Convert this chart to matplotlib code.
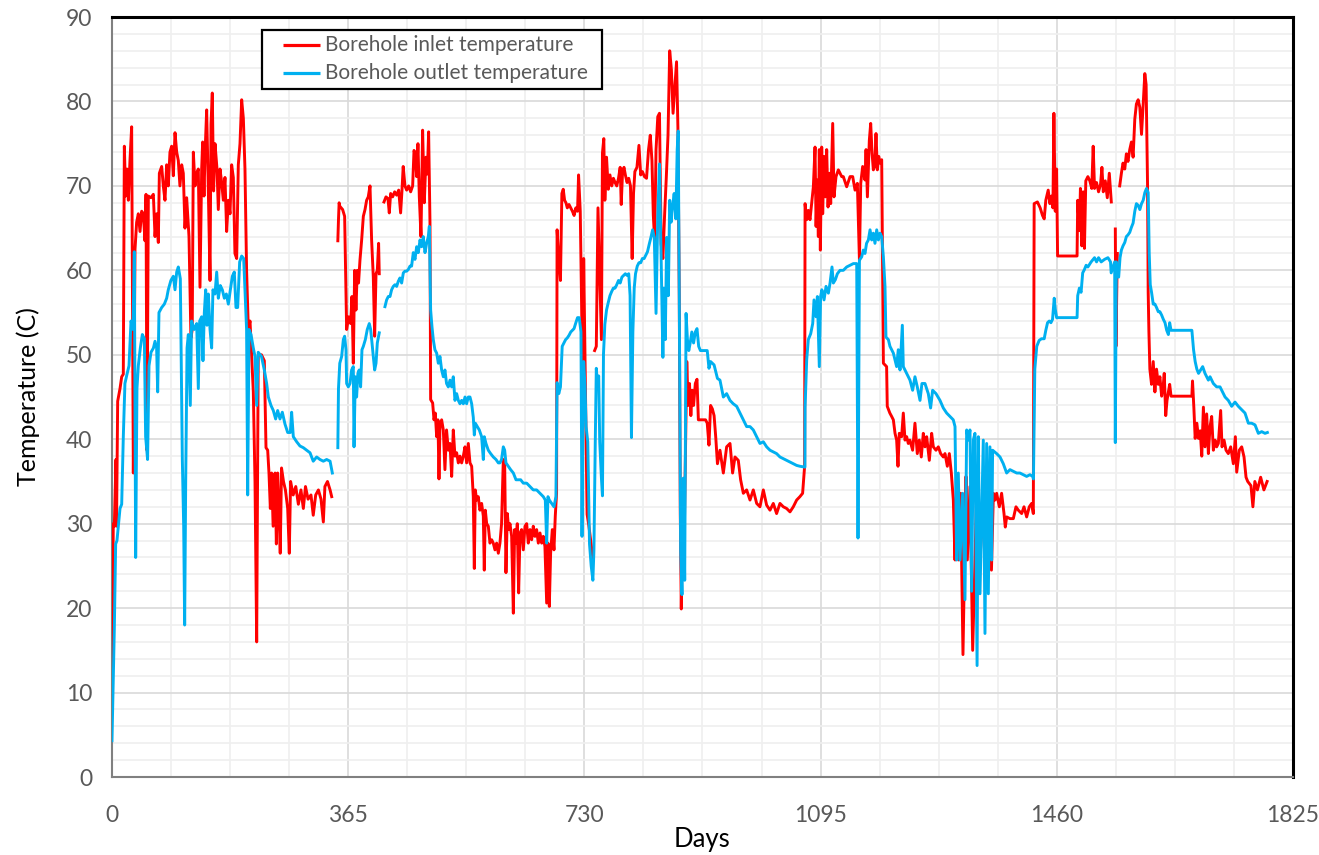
import numpy as np
import matplotlib
matplotlib.use("Agg")
import matplotlib.pyplot as plt
from matplotlib.ticker import MultipleLocator
from matplotlib.patches import Rectangle

plt.rcParams["font.family"] = ["Lato", "DejaVu Sans"]

# (day, temperature) pairs, one list per unbroken run
inlet_seg1 = [
    (0, 10), (2, 30), (3.6, 29.7), (6.2, 37.6), (7, 29.7), (8.8, 44.5), (12.4, 46), (15, 47.4),
    (17.5, 47.7), (19.1, 74.7), (21.1, 68.8), (23.2, 72), (25.3, 68.3), (27.8, 73), (30.4, 77),
    (33, 36), (35.6, 62.5), (38.1, 65.7), (40.7, 66.7), (43.3, 64.6), (45.9, 67), (48.4, 66.7),
    (51, 63.5), (52.6, 69), (54.1, 38.7), (56.2, 68.8), (60.3, 68.6), (63.9, 69), (66.5, 64),
    (69, 66.7), (71.6, 63.3), (73.2, 71.5), (76.8, 72.3), (79.3, 70), (81.9, 68.3), (84.5, 72.5),
    (87, 70), (89.6, 74), (92.2, 74.7), (94.8, 71.2), (97.4, 76.3), (100, 74), (102.5, 73),
    (105, 70), (107.7, 72.5), (110.2, 71.5), (112.8, 65), (115.4, 68.6), (119, 64), (122, 52),
    (124, 53), (125.7, 74), (128.3, 70), (130.9, 71.5), (133.4, 72), (136, 58), (138.6, 72),
    (140.1, 75.2), (142.2, 68.8), (143.7, 73.6), (146.3, 79), (148.9, 69.4), (151.5, 58.8),
    (153, 77.3), (155, 81), (157, 69.4), (159.2, 75), (162.3, 72), (164.3, 67.2), (166.9, 72),
    (169.5, 70.4), (172, 68.3), (174.6, 71), (177.2, 64.6), (179.8, 68.3), (182.4, 66.7),
    (184.9, 72.5), (187.5, 71), (190, 62), (192.7, 61.4), (195.2, 72.5), (197.8, 75), (200.4, 80.2),
    (203, 78), (205.5, 72), (208, 60), (210.7, 53), (213.3, 54), (215.8, 50), (218.4, 45.6),
    (221, 35), (223.6, 16), (226, 50), (231, 50), (235.4, 49.3), (238, 39), (240.6, 38.7),
    (242.6, 36), (244.7, 31.8), (246.7, 36), (249, 29.7), (252, 36), (254, 27.6), (256, 36),
    (258, 31.8), (260, 26.5), (262, 36.6), (265, 35), (268, 34), (271.5, 31.8), (274, 26.5),
    (276, 35), (280, 33.4), (284, 34.4), (288, 32.3), (292, 34), (295.7, 31.8), (299, 34.4),
    (303, 32.9), (307.5, 33.4), (311, 31), (314.8, 33.4), (319, 34), (323, 32.9), (326.6, 30.2),
    (329, 34.4), (333, 35), (337, 34), (339.5, 33.2),
]
inlet_seg2 = [
    (349, 63.5), (350, 66), (351, 68), (352, 67.6), (356.4, 67.2), (359.5, 66.4), (362.6, 53),
    (365.7, 54.5), (368.8, 53.7), (370.8, 56.9), (372.9, 49), (375, 60), (377, 55.3), (379, 60),
    (381, 58.5), (383.2, 61.2), (385.8, 63.6), (388.4, 66.4), (391, 67.2), (393.5, 68.3),
    (396, 68.7), (398.7, 70), (401.2, 63.6), (403.8, 59.2), (405.9, 52.2), (408, 59.6), (410, 60),
    (412, 63.2), (413, 59.6),
]
inlet_seg3 = [
    (420.3, 68.1), (423.4, 68.7), (426.5, 68.5), (428.5, 66.8), (430.6, 69.1), (433.7, 68.7),
    (436.8, 69.3), (439.9, 68.9), (443, 69.5), (446, 66.8), (448, 69.3), (450, 72.3), (452.7, 70),
    (455.3, 69.5), (458.4, 70), (461.5, 69.3), (464.6, 70), (466.7, 74.2), (468.7, 73.8),
    (470.8, 71.1), (472.8, 75), (474.9, 68.7), (477.5, 64), (480, 76.6), (482.6, 68), (485.2, 73.4),
    (487.3, 71.4), (489.3, 76.4), (491.4, 65.6), (492.4, 44.7), (495.5, 44.3), (497.6, 42.3),
    (499.6, 43.1), (501.7, 40.3), (503.7, 42.3), (505.3, 35.3), (506.8, 41.5), (509.4, 42.3),
    (512, 41.1), (514.5, 36.4), (517, 41.1), (519.7, 38.7), (522.3, 39.5), (524.9, 35.6),
    (527.4, 41.1), (530, 38), (532.6, 38.4), (535.2, 37.2), (537.7, 38), (540.3, 37.2), (542.9, 38),
    (545.5, 39.1), (548, 37.2), (550.6, 39.5), (553.2, 37.2), (555.8, 36.8), (558.3, 33.2),
    (559.9, 24.7), (561.4, 34), (563.5, 32.8), (566, 33.2), (568.6, 31.6), (571.2, 32.4),
    (573.8, 30.9), (575.3, 24.5), (576.9, 31.6), (579, 30), (581.5, 29.7), (584.1, 27.7),
    (586.7, 28.1), (589.2, 27.7), (591.8, 26.9), (594.4, 27.7), (597, 26.5), (599.5, 27.7),
    (602, 30), (604.7, 37.6), (606.8, 37.2), (608.8, 24.2), (610.9, 31.2), (613, 29.3), (615, 30),
    (617.6, 28.5), (620.2, 19.4), (622.2, 29.3), (624.3, 27.7), (626.3, 30), (628.4, 21.8),
    (630.5, 28.9), (633, 29.3), (635.6, 26.9), (638.2, 29.7), (640.8, 30), (643.3, 27.7),
    (646, 29.3), (648.5, 28.1), (651, 29.7), (653.6, 28.5), (656.2, 29.3), (658.8, 27.7),
    (661.4, 28.9), (664, 27.7), (666.5, 28.5), (669, 27.3), (671.7, 20.6), (673.7, 27.7),
    (675.8, 20.2), (677.8, 26.5), (680.4, 29.3), (683, 26.9), (685, 30.9), (687, 33.6),
    (687.8, 64.8), (690.4, 61.4), (693, 58.8), (695.2, 69.1), (697.3, 69.6), (699.4, 68.3),
    (701.5, 68), (703.6, 67.4), (706.2, 67.8), (708.9, 67.4), (711.5, 67), (714.1, 66.5),
    (716.8, 67.4), (719.4, 67), (721, 71.3), (723.6, 67), (725.8, 54.9), (727.9, 44), (728.9, 61.4),
    (731, 49.2), (732.6, 39.7), (734.2, 31.1), (736.8, 29.8), (743, 26),
]
inlet_seg4 = [
    (745.8, 50.5), (748.4, 51), (751, 67.4), (753.7, 59.2), (756.3, 51.8), (757.9, 73.9),
    (760, 75.6), (761.6, 68.3), (764.2, 73.4), (766.9, 69.6), (769.5, 71.3), (772.2, 70),
    (774.8, 70.9), (777.4, 70.4), (780, 70), (782.7, 70.9), (785.3, 72.2), (786.9, 67.8),
    (789, 71.7), (791.2, 72.2), (793.3, 71.3), (795.9, 70.4), (798.5, 70.9), (801.2, 70),
    (803.8, 61.4), (805.9, 69.1), (808, 71.7), (811.2, 72.2), (814.3, 74.8), (817, 71.3),
    (819.6, 71.7), (822.8, 71.1), (826, 70.9), (829.1, 74.3), (831.8, 76), (834.4, 73),
    (836.5, 66.5), (838.6, 63.5), (840.7, 74.3), (843.4, 78.2), (846, 78.6), (848.6, 63.1),
    (851.3, 61.4), (853.9, 66.5), (856.5, 70.9), (859.2, 76), (861.8, 86), (864.4, 83.8),
    (867, 78.6), (869.7, 81.7), (872.4, 84.7), (874.5, 76.9), (876.6, 57), (878.2, 31.1),
    (879.7, 19.9), (881.8, 31.1), (884, 26.8), (886, 37.6), (888.2, 49.2), (890.3, 44),
    (892.4, 46.6), (894.5, 42.8), (896.6, 45.8), (898.7, 44), (901.4, 46.6), (904, 47.1),
    (906.1, 42.3), (909.3, 42.3), (913.5, 42.3), (917.2, 42.3), (919.8, 41.9), (922.5, 39.3),
    (925, 44), (927.7, 43.6), (930.4, 42.8), (933, 40.2), (935.6, 37.1), (939.5, 38.7),
    (944.7, 36), (949.8, 39.1), (955, 39.5), (959, 36), (962.7, 37.9), (967.8, 37.5), (971.4, 35.2),
    (975.6, 33.6), (980.7, 34), (985.9, 32.8), (991, 34), (996.2, 32.4), (1001.3, 32),
    (1006.5, 34), (1011.6, 32.2), (1016.8, 31.6), (1021.9, 32.4), (1027, 31.2), (1032.2, 32.4),
    (1037.4, 32), (1042.5, 31.8), (1047.7, 31.4), (1052.8, 32), (1058, 32.8), (1063, 33.2),
    (1067.2, 33.6), (1070.3, 36.8), (1071, 67.9), (1073.5, 66), (1076, 67.1), (1078.6, 66),
    (1081.2, 67.9), (1083.8, 69.9), (1086.4, 74.6), (1088, 65.2), (1090, 70.7), (1091.5, 64),
    (1093, 74.3), (1094.6, 62.4), (1096.7, 74.6), (1098.2, 66.7), (1100.3, 73.5), (1102.4, 68.7),
    (1104.4, 74.3), (1106.5, 67.5), (1108.5, 71.5), (1110.6, 67.9), (1113.7, 77.4), (1115.7, 68.7),
    (1118.8, 71.1), (1122.4, 71.9), (1125, 71.5), (1127.6, 71.1), (1130.1, 71.1), (1135.3, 69.9),
    (1140.5, 71.1), (1144.6, 71.1), (1148.2, 69.5), (1151.8, 70.3), (1155, 61.2), (1157, 70.3),
    (1160, 72.3), (1163.6, 70.7), (1165.2, 74.3), (1167.3, 68.7), (1170.3, 75.4), (1172.4, 77.4),
    (1174.5, 73.9), (1176.5, 71.9), (1178.6, 72.3), (1180.6, 76.2), (1182.7, 71.9), (1184.8, 73.5),
    (1186.8, 72.7), (1189.4, 73.1), (1192, 49), (1197, 48.6), (1198, 43.9), (1202, 43.1),
    (1204.8, 42.7), (1207.4, 42.3), (1210, 40.7), (1212.5, 39.9), (1214.6, 36.8), (1216.6, 40.7),
    (1220.2, 40.3), (1222.8, 43.1), (1225.4, 39.9), (1228, 40.3), (1230.5, 39.5), (1233, 39.9),
    (1237.2, 38.7), (1240.8, 41.9), (1244.4, 38.3), (1247.5, 39.9), (1250.6, 37.9), (1253.7, 40.7),
    (1256.3, 39.1), (1258.9, 40.3), (1263, 37.5), (1266.6, 40.7), (1269.2, 39.1), (1273.3, 38.7),
    (1276.9, 39.1), (1280.5, 38.3), (1284.6, 37.9), (1287.2, 38.3), (1290.8, 36.8), (1293.9, 38.3),
    (1297, 36), (1300.1, 32.8), (1302.7, 25.7), (1305.2, 35.6), (1308.3, 25.7), (1311.4, 33.6),
    (1315, 14.5), (1319.7, 35.6), (1321.7, 25.7), (1325.8, 34.4), (1330, 15), (1336.1, 33.6),
    (1341.3, 25.7), (1346.4, 32.8), (1351.6, 26.5), (1354.2, 33.6), (1359, 24.5), (1362, 33.6),
    (1364.5, 32.8), (1367, 33.6), (1371.2, 32), (1374.7, 33.6), (1378.4, 31.2), (1380.4, 29.6),
    (1382.5, 30.8), (1387.6, 30.6), (1392.8, 30.6), (1396.9, 32), (1400.5, 31.6), (1405.7, 31.2),
    (1409.3, 32), (1413.4, 30.8), (1417.5, 32), (1421.1, 32.4), (1423.7, 31.2), (1425, 67.9),
    (1430, 68.1), (1434.3, 67.4), (1437.9, 66.5), (1440.5, 66.1), (1443, 68.3), (1446.7, 69.5),
    (1449.3, 67.9), (1451.9, 68.8), (1454, 67.4), (1455.5, 78.6), (1457.6, 67), (1459.7, 72),
    (1461.2, 61.7), (1471.6, 61.7), (1482, 61.7), (1491.3, 61.7), (1492.3, 68.3), (1494.9, 64.7),
    (1496.5, 69.7), (1498.6, 62.9), (1500.7, 69.3), (1502.7, 62.6), (1504.8, 70.6), (1508, 71.1),
    (1511, 70.6), (1514, 69.7), (1516.2, 74.7), (1518.3, 69.7), (1521.4, 70.4), (1524.5, 69.3),
    (1527.6, 70.2), (1529.7, 72.2), (1531.8, 69.3), (1534.9, 70.6), (1538, 68.6), (1541.1, 71.5),
    (1544.2, 68.1),
]
inlet_seg5 = [(1550.4, 64.9), (1551.4, 51), (1553.5, 62)]
inlet_seg6 = [
    (1557.2, 70), (1559.8, 71.5), (1562.3, 72.7), (1565, 72), (1567.5, 73.8), (1570, 72.9),
    (1572.7, 74.3), (1575.3, 75.2), (1577.9, 73.4), (1580.5, 77.9), (1583, 79.7), (1585.7, 80.2),
    (1588.3, 79.3), (1590.9, 76.1), (1593.5, 79.7), (1596, 83.3), (1598, 82), (1600.2, 70.2),
    (1601.2, 57.4), (1602.3, 52.8), (1603.8, 48.3), (1606.4, 46.5), (1609, 49.2), (1611.6, 45.6),
    (1614.1, 48.3), (1616.8, 46.5), (1619.3, 47.4), (1622, 45.1), (1624.6, 46.5), (1626, 47.8),
    (1628.3, 42.8), (1630.3, 44.6), (1632.4, 45.6), (1634.4, 46.5), (1636.5, 45.1), (1642.7, 45.1),
    (1653, 45.1), (1663.5, 45.1), (1668.7, 45.1), (1669.7, 46.9), (1671.8, 43.7), (1673.8, 40.1),
    (1676.4, 41.9), (1679, 40.1), (1681.6, 41), (1684, 38), (1686.5, 43.8), (1689, 39.1),
    (1691.6, 43), (1694.2, 38.3), (1696.8, 41.5), (1699.3, 42.7), (1701.9, 38.7), (1704.5, 39.9),
    (1707, 39.1), (1709.6, 39.5), (1713.2, 43.4), (1715.3, 39.1), (1718.4, 39.9), (1721.5, 38.7),
    (1725, 38.3), (1728.7, 39.1), (1732.8, 37.1), (1735.9, 40.3), (1738, 36.1), (1742, 38.7),
    (1745.7, 39.1), (1749.3, 37.9), (1752.4, 35.5), (1755, 35), (1760, 34.5), (1763, 32),
    (1766, 35), (1770, 34), (1775, 35.5), (1780, 34), (1785, 35),
]

outlet_seg1 = [
    (0, 4.3), (3.6, 17.5), (5.7, 27.6), (7.7, 28), (9.8, 29.7), (12.4, 31.8), (15, 32.3),
    (17.5, 40.3), (20, 46.6), (23.2, 47.7), (26.3, 48.7), (29.4, 54), (32.5, 53), (34.5, 62.2),
    (36.6, 26), (38.6, 46), (40.7, 48.7), (43.8, 50.8), (46.9, 52.4), (50, 51.9), (52, 40.3),
    (55, 37.6), (57.2, 48.7), (60.3, 50.3), (64, 50.8), (66.5, 51.6), (69, 50.8), (70.6, 45.6),
    (72.6, 55), (76.8, 55.6), (80.9, 56), (84.5, 56.7), (87, 57.7), (91, 58.8), (94.8, 59.3),
    (97.4, 57.7), (100, 59.8), (102.5, 60.4), (105.6, 59), (108.7, 37.6), (110.8, 29.7),
    (112.3, 18), (113.9, 35), (116, 50.8), (118, 52.4), (121, 44), (123, 54), (127, 53),
    (130.9, 53.7), (133.4, 46), (135.5, 54), (138.6, 54.5), (140.6, 49.3), (142.7, 55),
    (144.8, 57.7), (146.8, 53.5), (148.9, 57.2), (151.5, 53), (154, 50.8), (156, 57.7),
    (159.2, 57.2), (161.8, 59.8), (164.3, 56.7), (167.4, 58.2), (170.5, 57.7), (173.6, 56.7),
    (176.7, 57.2), (179.8, 56), (182.9, 57.7), (186, 59.3), (189, 59.8), (191.6, 55.6),
    (194.2, 55.6), (197.3, 61), (200.4, 61.7), (203.5, 61.4), (205.5, 57.7), (208, 53),
    (209.7, 33.4), (211.7, 53), (214.8, 52.4), (218.4, 50.8), (221, 49.8), (223.6, 44),
    (226, 50.3), (231, 49.8), (235.4, 48.2), (239, 46.6), (241.6, 45), (245.7, 44), (249.3, 43.4),
    (252.9, 42.4), (256, 43.4), (259.6, 42.4), (263.2, 43.2), (267.3, 41.8), (271.5, 40.8),
    (275.6, 40.8), (277.6, 43.2), (280.2, 40.3), (285.4, 39.7), (290.5, 39.2), (295.7, 39),
    (300.8, 38.7), (306, 38.4), (311, 37.4), (316.3, 37.9), (321.4, 37.6), (326.6, 37.4),
    (331.7, 37.6), (337, 37.4), (340.5, 36),
]
outlet_seg2 = [
    (349, 39), (350, 46), (352, 49), (354.9, 49.8), (357.5, 51.8), (359.5, 52.2), (361.6, 50.6),
    (362.6, 46.6), (365.2, 46.2), (367.8, 46.6), (370.3, 48.2), (372.9, 48.6), (374, 39.1),
    (376, 47.4), (378, 45), (380, 47.8), (382, 48.2), (384.2, 46.2), (386.3, 50.6), (388.4, 51),
    (391.5, 51.8), (394.5, 53), (397.6, 53.7), (399.7, 53), (401.8, 51.4), (403.8, 49.8),
    (405.9, 48.2), (408, 49), (410, 51.4), (413, 52.6),
]
outlet_seg3 = [
    (421.8, 55.7), (424.4, 56.5), (427, 56.9), (429.6, 56.9), (432.1, 57.7), (434.7, 58.1),
    (437.3, 58.3), (439.9, 58.1), (442.4, 58.7), (445, 59.1), (447.6, 58.5), (450.2, 59.7),
    (452.7, 59.9), (455.3, 59.9), (457.9, 60.1), (460.5, 60.5), (463, 60.5), (465.6, 62.1),
    (468.2, 61.3), (470.8, 62.8), (473.3, 62.1), (476, 63.6), (478.5, 62.8), (481, 64),
    (483.7, 62.1), (486.2, 63.2), (488.8, 64), (490.4, 65.2), (492.4, 55.3), (494.5, 53.3),
    (496.5, 51.8), (499, 50.6), (501.7, 50.2), (504.3, 49), (506.8, 49.8), (509.4, 48.2),
    (512, 47.4), (514.5, 48.2), (517, 46.6), (519.7, 46.2), (522.3, 47), (524.9, 46.2),
    (527.4, 47.4), (530, 44.6), (532.6, 45.4), (535.2, 44.6), (537.7, 44.2), (540.3, 44.6),
    (542.9, 44.2), (545.5, 45), (548, 44.2), (550.6, 45), (553.2, 45), (555.8, 44.2),
    (558.3, 42.6), (559.9, 40.5), (561.4, 41.9), (564.5, 41.5), (567.6, 41.1), (571.2, 40.3),
    (573.8, 37.6), (575.3, 40.3), (577.9, 39.5), (581.5, 38.7), (585.1, 38.3), (589.2, 37.9),
    (593.4, 37.6), (597, 37.2), (599.5, 37.2), (602, 37.6), (604.7, 39.1), (606.8, 38.7),
    (608.8, 37.2), (612.4, 36.8), (616, 36.4), (620.2, 36), (624.3, 35.2), (627.9, 35.2),
    (631.5, 35.2), (635.6, 34.8), (640.8, 34.8), (646, 34.4), (651, 34), (656.2, 34),
    (661.4, 33.6), (666.5, 33.2), (669.6, 32.8), (671.7, 27.7), (673.7, 33.2), (675.8, 32.8),
    (679.4, 32.4), (683, 32), (686, 33.2), (687.8, 46.7), (690.4, 45.4), (693, 46.2),
    (695.7, 51), (698.3, 51.4), (701, 51.8), (703.6, 52), (706.2, 52.3), (708.9, 52.7),
    (711.5, 52.9), (714, 53.1), (716.8, 53.8), (719.4, 54.4), (722, 54.4), (724.7, 52.7),
    (726.3, 28.5), (727.9, 44), (728.9, 49.2), (731, 46.2), (732.6, 41.5), (735.2, 39.7),
    (737.9, 27.6), (740.5, 25), (743.1, 23.3), (744.7, 26.8), (746.8, 39.7), (748.4, 48.4),
    (750, 46.7), (752.1, 47.5), (753.7, 39.7), (756.3, 35.4), (757.9, 33.3), (759.5, 50.1),
    (761.6, 53.6), (764.2, 55.3), (766.9, 56.2), (769.5, 57), (772.2, 57.5), (774.8, 57.9),
    (777.4, 57.9), (780, 58.3), (782.7, 58.8), (785.3, 58.5), (788, 59.2), (790.6, 59.4),
    (793.3, 59.6), (795.9, 59.4), (798.5, 59.6), (800.6, 57), (802.7, 40.2), (804.9, 52.7),
    (807, 57.9), (809, 59.6), (811.7, 60.5), (814.3, 60.9), (817, 60.9), (819.6, 61.4),
    (822.3, 61.4), (824.9, 61.8), (827.5, 62.2), (830.2, 63.1), (832.8, 63.9), (835.4, 64.8),
    (838, 63.9), (840.7, 54.9), (843.4, 66.5), (846, 72.6), (848.6, 61.4), (851.3, 49.7),
    (852.8, 57.9), (855, 51.8), (857.1, 63.9), (859.7, 57), (861.8, 68.3), (864, 65.7),
    (866, 67.4), (868.7, 69.1), (871.3, 66.1), (873.4, 74.3), (875, 76.5), (876.6, 57),
    (878.7, 26.8), (880.8, 21.6), (882.9, 35.4), (885, 23.3), (887.1, 54.9), (889.2, 51.8),
    (891.3, 50.5), (893.5, 51.4), (896, 52.7), (898.7, 51.4), (901.4, 52.7), (904, 53.1),
    (906.6, 51), (909.3, 50.5), (914.5, 50.5), (919.8, 50.5), (922.5, 48.4), (925, 49.2),
    (930.4, 48.8), (935.6, 47.2), (939.5, 47.0), (944.7, 45), (949.8, 45.4), (955, 44.6),
    (960, 44.2), (965.3, 43.9), (970.4, 43.1), (975.6, 42.3), (980.7, 41.5), (985.9, 41.5),
    (991, 41.1), (996.2, 40.3), (1001.3, 39.5), (1006.5, 39.7), (1011.6, 39.1), (1016.8, 38.7),
    (1021.9, 38.5), (1027, 38.3), (1032.2, 37.9), (1037.4, 37.7), (1042.5, 37.5), (1047.7, 37.3),
    (1052.8, 37.1), (1058, 36.9), (1063.1, 36.8), (1070.8, 36.7), (1071, 43.8), (1073.5, 49.4),
    (1076, 51.8), (1079.7, 52.5), (1082.8, 53.7), (1084.8, 56.5), (1088, 54.5), (1090, 56.9),
    (1093, 48.6), (1095, 56.9), (1097, 57.7), (1100.3, 56.5), (1103.4, 58.1), (1107, 57.3),
    (1109.6, 58.5), (1112.6, 60.4), (1114.7, 58.5), (1117.8, 58.9), (1120.9, 59.6), (1125, 60),
    (1130.1, 60), (1135.3, 60.4), (1140.5, 60.6), (1145.6, 60.8), (1150.8, 60.8), (1152.8, 28.3),
    (1155, 61.2), (1158.5, 61.6), (1161, 62.4), (1163.6, 62), (1166, 63.2), (1168.8, 63.6),
    (1171.4, 64.8), (1174, 63.6), (1176.5, 64.4), (1179, 63.2), (1181.7, 64.8), (1184.3, 63.6),
    (1186.8, 64.4), (1189.4, 64), (1192, 61.6), (1194.5, 58.1), (1196, 52.1), (1199.7, 51.8),
    (1202.2, 51), (1207.4, 50.2), (1212.5, 48.6), (1215, 50.6), (1217.7, 48.2), (1221.3, 53.5),
    (1222.8, 48.6), (1228, 47.8), (1233.1, 47), (1237.2, 45.8), (1240.8, 47.4), (1244.4, 46.2),
    (1248.6, 44.6), (1251.6, 46.6), (1256.3, 46.6), (1261.4, 45.4), (1265, 43.7), (1268.1, 45.8),
    (1273.3, 45.4), (1279.5, 44.6), (1284.6, 43.7), (1289.8, 43.1), (1295, 42.7), (1300, 42.3),
    (1302.7, 41.5), (1305.2, 25.7), (1307.8, 36), (1310.4, 25.7), (1314.5, 33.6), (1318.1, 21),
    (1320.7, 41.1), (1323.3, 39.9), (1325.8, 41.1), (1328.4, 22), (1331, 39.9), (1333.5, 40.7),
    (1336.8, 13.2), (1338.7, 40.3), (1341.3, 21.7), (1346.4, 39.9), (1349, 17), (1351.6, 39.5),
    (1354.2, 21.7), (1356.7, 39.1), (1359.3, 25.7), (1360.8, 38.7), (1367, 38.3), (1372.2, 37.9),
    (1377.3, 37.1), (1382.5, 36), (1387.6, 36.4), (1392.8, 36.2), (1398, 36), (1403, 36),
    (1408.2, 35.8), (1413.4, 35.6), (1418.5, 35.8), (1422.7, 35.6), (1423.9, 35.3), (1426, 48.3),
    (1429, 51), (1432.7, 51.7), (1436.3, 51.9), (1440.5, 51.9), (1443, 52.9), (1445.7, 53.8),
    (1448.3, 54), (1450.9, 53.8), (1453.4, 54.2), (1456, 56.7), (1457.6, 55.4), (1459.7, 54.4),
    (1466.4, 54.4), (1476.8, 54.4), (1491.3, 54.4), (1492.3, 57), (1494.9, 57.9), (1497.5, 57.4),
    (1500, 59.7), (1502.7, 60.1), (1505.3, 60.6), (1508, 60.4), (1513, 61), (1518.3, 61.5),
    (1521.4, 61), (1524.5, 61.5), (1528.6, 61), (1533.8, 61.3), (1539, 61.5), (1543, 61),
    (1544, 59.7), (1549.4, 61), (1550.4, 39.6), (1552, 61), (1555.6, 59.2), (1557.7, 61.5),
    (1559.8, 62.4), (1562.3, 62.9), (1565, 63.3), (1567.5, 64), (1570, 64.2), (1572.7, 64.5),
    (1575.3, 65.1), (1577.9, 65.6), (1580.5, 67), (1583, 67.9), (1585.7, 67.7), (1588.3, 67.2),
    (1590.9, 67.9), (1593.5, 68.3), (1596, 69.2), (1598.6, 69.7), (1601.2, 69.2), (1602.8, 62),
    (1604.4, 58.3), (1606.4, 57.4), (1609, 56), (1611.6, 56), (1614.1, 55.6), (1616.8, 55.1),
    (1619.3, 55.1), (1622, 54.7), (1624.6, 54.2), (1627.2, 53.8), (1629.8, 52.9), (1632.4, 52.4),
    (1634.4, 53.8), (1636.5, 52.9), (1642.7, 52.9), (1653, 52.9), (1663.5, 52.9), (1668.7, 52.9),
    (1671.3, 50.6), (1673.8, 49.2), (1676.4, 48.3), (1679, 47.8), (1685.4, 48.6), (1689, 47.8),
    (1694.2, 47), (1696.8, 47.4), (1701.9, 46.6), (1707, 46.2), (1712.2, 46.2), (1714.8, 45.8),
    (1720, 45), (1725, 44.6), (1730.2, 43.9), (1735.4, 44.4), (1740.5, 43.9), (1745.7, 43.5),
    (1750.8, 43.1), (1756, 41.9), (1761, 41.9), (1766.3, 41.7), (1771.4, 40.7), (1776.6, 40.9),
    (1781.7, 40.7), (1785.4, 40.8),
]

inlet_runs = [inlet_seg1, inlet_seg2, inlet_seg3, inlet_seg4, inlet_seg5, inlet_seg6]
outlet_runs = [outlet_seg1, outlet_seg2, outlet_seg3]
series_labels = ["Borehole inlet temperature", "Borehole outlet temperature"]

INLET_COLOR = "#FF0000"
OUTLET_COLOR = "#00B0F0"
TICK_COLOR = "#595959"

fig = plt.figure(figsize=(13.19, 8.55), dpi=100)
ax = fig.add_axes([0.0849, 0.0912, 0.8954, 0.8889])

for run in inlet_runs:
    d, t = np.array(run).T
    ax.plot(d, t, color=INLET_COLOR, lw=2.1, solid_joinstyle="round", zorder=3)
for run in outlet_runs:
    d, t = np.array(run).T
    ax.plot(d, t, color=OUTLET_COLOR, lw=2.1, solid_joinstyle="round", zorder=4)

ax.set_xlim(0, 1825)
ax.set_ylim(0, 90)
ax.xaxis.set_major_locator(MultipleLocator(365))
ax.xaxis.set_minor_locator(MultipleLocator(91.25))
ax.yaxis.set_major_locator(MultipleLocator(10))
ax.yaxis.set_minor_locator(MultipleLocator(2))

ax.grid(which="major", color="#D9D9D9", lw=1.2, zorder=0)
ax.grid(which="minor", color="#EFEFEF", lw=1.2, zorder=0)
ax.set_axisbelow(True)

ax.tick_params(which="both", length=0)
ax.tick_params(axis="both", labelsize=16.5, labelcolor=TICK_COLOR)
ax.tick_params(axis="x", pad=20)
ax.tick_params(axis="y", pad=14)

for side in ("top", "right"):
    ax.spines[side].set_color("black")
    ax.spines[side].set_linewidth(2.2)
for side in ("left", "bottom"):
    ax.spines[side].set_color("#808080")
    ax.spines[side].set_linewidth(1.5)

ax.set_xlabel("Days", fontsize=18.5, color="black", labelpad=1)
ax.set_ylabel("Temperature (C)", fontsize=18, color="black", labelpad=19)

# legend box drawn in axes fraction, like the spreadsheet legend
ax.add_patch(Rectangle((0.127, 0.9053), 0.288, 0.0776, transform=ax.transAxes,
                       facecolor="white", edgecolor="black", lw=1.6, zorder=6))
for row, (label, color) in enumerate(zip(series_labels, [INLET_COLOR, OUTLET_COLOR])):
    y = 0.9632 - row * 0.0375
    ax.plot([0.1448, 0.1761], [y, y], transform=ax.transAxes, color=color, lw=2.3,
            solid_capstyle="butt", zorder=7)
    ax.text(0.1800, y, label, transform=ax.transAxes, fontsize=15, color=TICK_COLOR,
            va="center", ha="left", zorder=7)

fig.savefig("out.png", dpi=100)
